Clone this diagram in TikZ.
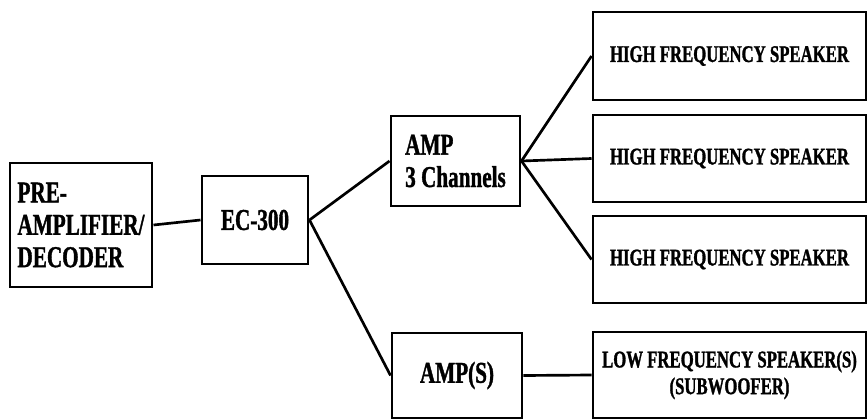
\documentclass[tikz,border=0pt]{standalone}
\usepackage{fontspec}
\setmainfont{Liberation Serif}[FakeStretch=0.7,BoldFeatures={FakeBold=1.2}]

\begin{document}
\begin{tikzpicture}[x=0.025cm,y=-0.025cm,
  box/.style={draw,line width=2.1pt,inner sep=0pt},
  bigtext/.style={font=\bfseries\fontsize{21.5}{23}\selectfont},
  smalltext/.style={font=\bfseries\fontsize{17}{19}\selectfont},
  wire/.style={line width=1.9pt}]
\useasboundingbox (0,0) rectangle (868,420);

\node[box,bigtext,align=left,minimum width=142*0.025cm,minimum height=124*0.025cm] (pre) at (81,225) {PRE-\\ AMPLIFIER/\\ DECODER};
\node[box,bigtext,minimum width=106*0.025cm,minimum height=88*0.025cm] (ec) at (255,220) {EC-300};

\node[box,bigtext,align=left,minimum width=129*0.025cm,minimum height=90*0.025cm] (amp3) at (455.5,161) {AMP\\ 3 Channels};
\node[box,bigtext,minimum width=130*0.025cm,minimum height=85*0.025cm] (amps) at (457,375.5) {AMP(S)};

\node[box,smalltext,minimum width=273*0.025cm,minimum height=88*0.025cm] (hfa) at (729.5,56) {HIGH FREQUENCY SPEAKER};
\node[box,smalltext,minimum width=273*0.025cm,minimum height=87*0.025cm] (hfb) at (729.5,158.5) {HIGH FREQUENCY SPEAKER};
\node[box,smalltext,minimum width=273*0.025cm,minimum height=87*0.025cm] (hfc) at (729.5,259.5) {HIGH FREQUENCY SPEAKER};
\node[box,smalltext,align=center,minimum width=273*0.025cm,minimum height=86*0.025cm] (lf) at (729.5,375) {LOW FREQUENCY SPEAKER(S)\\ (SUBWOOFER)};

\draw[wire] (pre.east) -- (ec.west);
\draw[wire] (ec.east) -- (amp3.west);
\draw[wire] (ec.east) -- (amps.west);

\draw[wire] (amp3.east) -- (hfa.west);
\draw[wire] (amp3.east) -- (hfb.west);
\draw[wire] (amp3.east) -- (hfc.west);
\draw[wire] (amps.east) -- (lf.west);
\end{tikzpicture}
\end{document}
